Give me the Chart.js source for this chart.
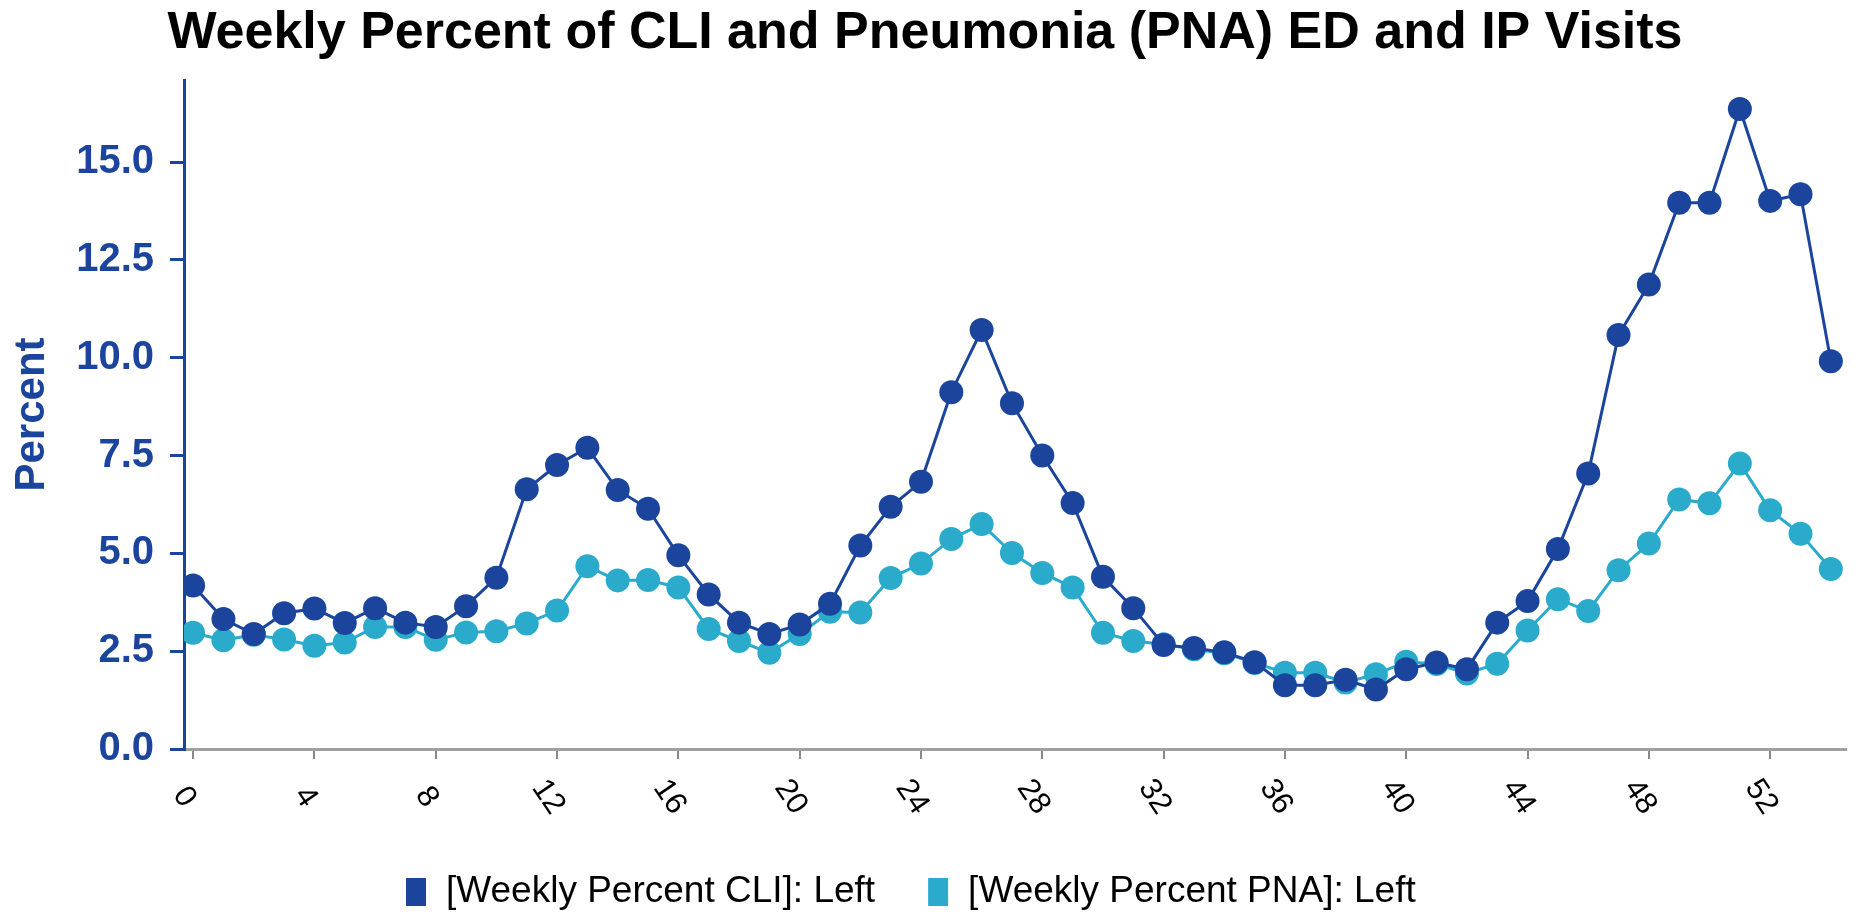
<!DOCTYPE html>
<html>
<head>
<meta charset="utf-8">
<script src="https://cdn.jsdelivr.net/npm/chart.js@4.4.1/dist/chart.umd.min.js"></script>
<style>
html,body{margin:0;padding:0;background:#fff;}
#c{display:block;}
</style>
</head>
<body>
<canvas id="c" width="1858" height="917"></canvas>
<script>
const chartTitle = 'Weekly Percent of CLI and Pneumonia (PNA) ED and IP Visits';
const yAxisTitle = 'Percent';
const weeks = [0,1,2,3,4,5,6,7,8,9,10,11,12,13,14,15,16,17,18,19,20,21,22,23,24,25,26,27,28,29,30,31,32,33,34,35,36,37,38,39,40,41,42,43,44,45,46,47,48,49,50,51,52,53,54];
const cliValues = [4.18,3.32,2.94,3.47,3.59,3.22,3.60,3.23,3.12,3.65,4.38,6.64,7.26,7.70,6.62,6.14,4.95,3.95,3.23,2.94,3.18,3.71,5.20,6.19,6.83,9.12,10.71,8.84,7.50,6.29,4.40,3.60,2.66,2.58,2.47,2.22,1.63,1.63,1.77,1.52,2.04,2.21,2.04,3.23,3.78,5.11,7.04,10.58,11.87,13.96,13.96,16.36,14.01,14.18,9.91];
const pnaValues = [2.97,2.78,2.92,2.80,2.64,2.72,3.12,3.12,2.79,2.98,3.01,3.21,3.54,4.67,4.31,4.32,4.13,3.07,2.76,2.46,2.94,3.51,3.49,4.37,4.74,5.37,5.75,5.01,4.50,4.13,2.97,2.76,2.68,2.55,2.45,2.20,1.95,1.95,1.70,1.91,2.23,2.17,1.93,2.18,3.03,3.83,3.53,4.57,5.25,6.38,6.28,7.30,6.10,5.50,4.60];
const seriesLabels = ['[Weekly Percent CLI]: Left', '[Weekly Percent PNA]: Left'];
const xTickLabels = ['0','4','8','12','16','20','24','28','32','36','40','44','48','52'];
const yTickLabels = ['0.0','2.5','5.0','7.5','10.0','12.5','15.0'];

const DARK = '#1b449c';
const LIGHT = '#2aabcc';
const FONT = '"Liberation Sans", Arial, sans-serif';

const extras = {
  id: 'extras',
  afterDraw(chart) {
    const ctx = chart.ctx;
    const xs = chart.scales.x;
    ctx.save();
    // title
    ctx.fillStyle = '#000';
    ctx.font = 'bold 52px ' + FONT;
    ctx.textAlign = 'center';
    ctx.textBaseline = 'alphabetic';
    ctx.fillText(chartTitle, 925, 48);
    // rotated x tick labels
    ctx.font = '31px ' + FONT;
    ctx.textAlign = 'center';
    ctx.textBaseline = 'middle';
    xTickLabels.forEach(l => {
      const px = xs.getPixelForValue(Number(l));
      ctx.save();
      ctx.translate(px - 9, xs.top + 48);
      ctx.rotate(56 * Math.PI / 180);
      ctx.fillText(l, 0, 0);
      ctx.restore();
    });
    // legend
    ctx.font = '37px ' + FONT;
    ctx.textAlign = 'left';
    ctx.textBaseline = 'middle';
    let x = 406;
    const cy = 892;
    chart.data.datasets.forEach((ds, i) => {
      ctx.fillStyle = ds.borderColor;
      ctx.fillRect(x, cy - 14, 20, 28);
      x += 20 + 20;
      ctx.fillStyle = '#000';
      ctx.fillText(ds.label, x, cy);
      x += ctx.measureText(ds.label).width + 53;
    });
    ctx.restore();
  }
};

new Chart(document.getElementById('c'), {
  type: 'line',
  data: {
    datasets: [
      { label: seriesLabels[0], data: weeks.map((w, i) => ({x: w, y: cliValues[i]})),
        borderColor: DARK, backgroundColor: DARK, borderWidth: 3,
        pointRadius: 12, pointBackgroundColor: DARK, pointBorderWidth: 0, tension: 0 },
      { label: seriesLabels[1], data: weeks.map((w, i) => ({x: w, y: pnaValues[i]})),
        borderColor: LIGHT, backgroundColor: LIGHT, borderWidth: 3,
        pointRadius: 12, pointBackgroundColor: LIGHT, pointBorderWidth: 0, tension: 0 }
    ]
  },
  options: {
    responsive: false,
    animation: false,
    devicePixelRatio: 1,
    layout: { padding: { top: 80, left: 0, right: 9, bottom: 0 } },
    plugins: { legend: { display: false }, title: { display: false }, tooltip: { enabled: false } },
    scales: {
      x: {
        type: 'linear', min: -0.3, max: 54.5,
        afterBuildTicks: s => { s.ticks = xTickLabels.map(l => ({ value: Number(l) })); },
        afterFit: s => { s.height = 168; },
        ticks: { display: false, stepSize: 4 },
        grid: { drawOnChartArea: false, drawTicks: true, tickLength: 10, color: '#8a8a8a', lineWidth: 2 },
        border: { display: true, color: '#a0a0a0', width: 3, dash: [3, 2] }
      },
      y: {
        type: 'linear', min: 0, max: 17.1,
        afterBuildTicks: s => { s.ticks = yTickLabels.map(l => ({ value: Number(l) })); },
        afterFit: s => { s.width = 184; },
        ticks: { callback: (v) => { const i = yTickLabels.findIndex(l => Number(l) === v); return i >= 0 ? yTickLabels[i] : ''; },
                 font: { family: FONT, size: 40, weight: 'bold' }, color: DARK, padding: 16 },
        grid: { drawOnChartArea: false, drawTicks: true, tickLength: 14, color: DARK, lineWidth: 3 },
        border: { display: true, color: DARK, width: 3 },
        title: { display: true, text: yAxisTitle, color: DARK, font: { family: FONT, size: 42, weight: 'bold' }, padding: { top: 7, bottom: 0 } }
      }
    }
  },
  plugins: [extras]
});
</script>
</body>
</html>
